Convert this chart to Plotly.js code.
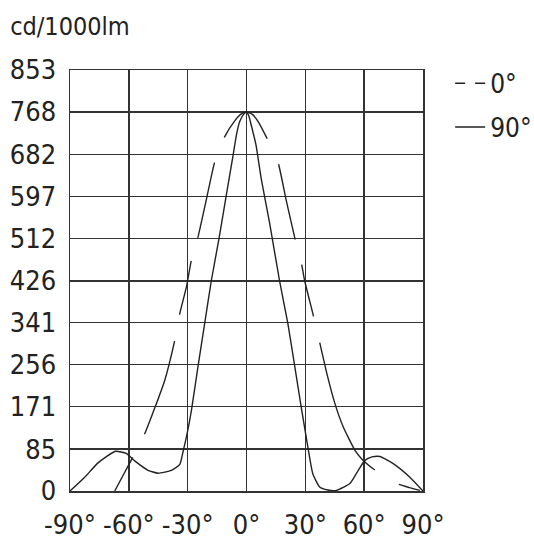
<!DOCTYPE html>
<html>
<head>
<meta charset="utf-8">
<script src="https://cdn.plot.ly/plotly-3.0.1.min.js"></script>
<style>
html,body{margin:0;padding:0;background:#fff;}
#chart{width:534px;height:539px;}
</style>
</head>
<body>
<div id="chart"></div>
<script>
// Angles (degrees) and intensities (cd/1000lm)
const angle90 = [-90, -82.5, -75.7, -66.8, -61.3, -57, -50.2, -45.1, -38.3, -34, -32.4, -30.6, -28.1, -24.7, -21.3, -17.9, -14, -10.4, -6.8, -5.1, -3.5, -1.5, 0, 1.2, 2.5, 4.9, 7.5, 11.7, 16.8, 21.1, 24.5, 27.9, 31.3, 33.8, 37.3, 41.5, 45.9, 52.7, 57, 60.4, 64, 68, 74.8, 83.3, 90];
const value90 = [0, 28, 57, 80.5, 76, 61, 42, 36, 42, 54, 79, 110, 163, 253, 340, 427, 512, 597, 681, 722, 748, 763, 768, 760, 740, 700, 633, 545, 427, 339, 255, 170, 89, 35, 8, 2, 1.4, 15, 42, 62, 69, 70, 55.5, 28, 0];

const angle0 = [-67.2, -62.5, -57.9, -55, -51.9, -46.8, -41.7, -36.6, -34, -30.6, -28.1, -24.7, -20.5, -16.2, -11.1, -6, -3, 0, 3, 6, 10, 16, 20.2, 24.5, 27.9, 29.6, 33.8, 37.1, 40.8, 45.1, 49.3, 55.3, 59.5, 64.6, 70, 76.5, 83, 88.4];
const value0 = [0, 35, 69, 92, 116, 168, 224, 305, 360, 414, 468, 515, 590, 667, 718, 750, 763, 768, 763, 748, 718, 667, 590, 515, 464, 427, 360, 305, 241, 177, 130, 82.5, 62, 45, 30, 15, 7, 1.4];

const xTicks = [-90, -60, -30, 0, 30, 60, 90];
const xTickLabels = ['-90°', '-60°', '-30°', '0°', '30°', '60°', '90°'];
const yTicks = [0, 85, 171, 256, 341, 426, 512, 597, 682, 768, 853];
const yTickLabels = ['0', '85', '171', '256', '341', '426', '512', '597', '682', '768', '853'];
const seriesNames = ['0°', '90°'];

const FONT = "'Liberation Sans Narrow', 'DejaVu Sans Condensed', 'Liberation Sans', Arial, sans-serif";
const INK = '#222';
const GRID = '#333';

const traces = [
  {
    x: angle0, y: value0, type: 'scatter', mode: 'lines', name: seriesNames[0],
    legendgroup: 'g0', showlegend: false,
    line: {color: INK, width: 1.4, shape: 'spline', smoothing: 0.5,
      dash: '38px,26px,98px,27px,55px,24px,77px,27px,70px,28px,77px,26px,53px,27px,142px,28px,30px'},
    hoverinfo: 'x+y'
  },
  {
    x: [null], y: [null], type: 'scatter', mode: 'lines', name: seriesNames[0],
    legendgroup: 'g0', showlegend: true,
    line: {color: INK, width: 1.4, dash: '10px,10px'}
  },
  {
    x: angle90, y: value90, type: 'scatter', mode: 'lines', name: seriesNames[1],
    legendgroup: 'g1', showlegend: true,
    line: {color: INK, width: 1.4, shape: 'spline', smoothing: 0.5},
    hoverinfo: 'x+y'
  }
];

const layout = {
  width: 534, height: 539,
  paper_bgcolor: '#fff', plot_bgcolor: '#fff',
  margin: {l: 70, r: 111, t: 70, b: 48, pad: 0},
  font: {family: FONT, color: INK, size: 26},
  title: {
    text: 'cd/1000lm', font: {family: FONT, size: 25, color: INK},
    xref: 'container', x: 0.019, xanchor: 'left',
    yref: 'container', y: 0.968, yanchor: 'top'
  },
  xaxis: {
    range: [-90, 90], tickvals: xTicks, ticktext: xTickLabels,
    showgrid: true, gridcolor: GRID, gridwidth: 1.5,
    showline: true, mirror: true, linecolor: GRID, linewidth: 1.5,
    zeroline: false, ticks: 'outside', ticklen: 9, tickcolor: 'rgba(0,0,0,0)',
    tickfont: {family: FONT, size: 27, color: INK}, fixedrange: true
  },
  yaxis: {
    range: [0, 853], tickvals: yTicks, ticktext: yTickLabels,
    showgrid: true, gridcolor: GRID, gridwidth: 1.5,
    showline: true, mirror: true, linecolor: GRID, linewidth: 1.5,
    zeroline: false, ticks: 'outside', ticklen: 7, tickcolor: 'rgba(0,0,0,0)',
    tickfont: {family: FONT, size: 27, color: INK}, fixedrange: true
  },
  showlegend: true,
  legend: {
    xref: 'container', yref: 'container',
    x: 0.843, xanchor: 'left', y: 0.889, yanchor: 'top',
    font: {family: FONT, size: 26, color: INK},
    tracegroupgap: 7, bgcolor: 'rgba(0,0,0,0)', borderwidth: 0
  }
};

Plotly.newPlot('chart', traces, layout, {displayModeBar: false, staticPlot: true});
</script>
</body>
</html>
